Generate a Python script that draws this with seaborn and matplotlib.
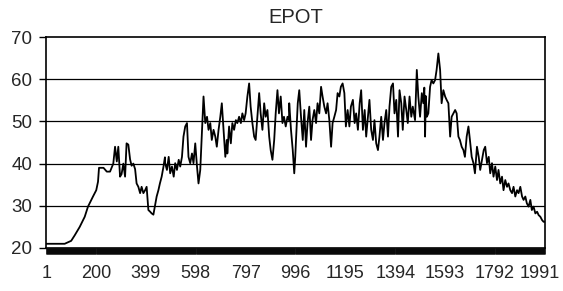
import numpy as np
import pandas as pd
import seaborn as sns
import matplotlib
matplotlib.use("Agg")
import matplotlib.pyplot as plt
import matplotlib.transforms as mtransforms

# step index (category) and EPOT value
step = [1, 75, 101, 115, 135, 155, 168, 188, 201, 208, 212, 230,
        243, 256, 269, 276, 283, 289, 296, 302, 309, 316, 322, 329, 336, 342, 349, 356,
        362, 369, 376, 382, 389, 396, 402, 409, 416, 422, 429, 435, 442, 449, 455, 462, 469, 475,
        476, 483, 490, 496, 503, 510, 516, 523, 530, 536, 543, 549, 556, 563, 569, 576, 583, 589,
        596, 603, 609, 616, 623, 629, 636, 643, 649, 656, 662, 669, 676, 682, 689, 696, 702, 709,
        716, 722,
        724, 731, 738, 744, 751, 758, 764, 771, 778, 784, 791, 797, 804, 811, 817, 824, 831, 837,
        844, 851, 857, 864, 871, 877, 884, 891, 897, 904, 911, 917, 924, 930, 937, 944, 950, 957,
        964, 970,
        971, 978, 985, 991, 995, 998, 1005, 1011, 1018, 1025, 1031, 1038, 1044, 1051, 1058, 1064,
        1071, 1078, 1084, 1091, 1098, 1104, 1111, 1118, 1124, 1131, 1138, 1144, 1151, 1158, 1164,
        1171, 1177, 1184, 1191, 1197, 1204, 1211, 1217,
        1225, 1232, 1238, 1245, 1252, 1258, 1265, 1272, 1278, 1285, 1291, 1298, 1305, 1311, 1318,
        1325, 1331, 1338, 1345, 1351, 1358, 1365, 1371, 1378, 1385, 1391, 1398, 1405, 1411, 1418,
        1424, 1431, 1438, 1444, 1451, 1458, 1464,
        1473, 1480, 1486, 1493, 1500, 1506, 1510, 1513, 1516, 1520, 1526, 1533, 1539, 1546, 1553,
        1559, 1566, 1573, 1579, 1586, 1593, 1599, 1606, 1613, 1619, 1626, 1633, 1639, 1646, 1652,
        1659, 1666, 1672, 1679, 1686, 1692, 1699, 1706, 1712,
        1720, 1727, 1733, 1740, 1747, 1753, 1760, 1767, 1773, 1780, 1786, 1793, 1800, 1806, 1813,
        1820, 1826, 1833, 1840, 1846, 1853, 1860, 1866, 1873, 1880, 1886, 1893, 1900, 1906, 1913,
        1919, 1926, 1933, 1939, 1946, 1953, 1960, 1966, 1973, 1980, 1986, 1991]

epot = [21.0, 21.0, 21.7, 23.0, 25.0, 27.4, 29.8, 32.2, 33.7, 35.7, 39.0, 39.0,
        38.1, 38.1, 40.0, 44.0, 40.5, 44.0, 36.9, 37.5, 40.0, 36.9, 44.8, 44.5, 41.0, 39.5, 40.0, 38.7,
        35.3, 34.5, 33.0, 34.5, 33.0, 33.7, 34.5, 29.0, 28.6, 28.2, 27.9, 29.9, 32.2, 33.7, 35.3, 36.9, 39.2, 41.5,
        40.1, 38.5, 41.6, 37.7, 39.3, 36.9, 40.1, 38.5, 40.9, 39.3, 41.6, 46.4, 48.8, 49.6, 41.6, 40.1, 42.4, 40.1,
        44.8, 39.3, 35.3, 38.5, 48.0, 55.9, 49.6, 51.1, 48.0, 49.6, 45.6, 48.0, 46.4, 44.0, 48.0, 51.1, 54.3, 48.0,
        41.6, 45.6,
        42.4, 48.8, 44.8, 49.6, 48.0, 50.3, 49.6, 51.1, 49.6, 51.9, 50.3, 51.9, 55.9, 59.0, 53.5, 49.6, 46.4, 45.6,
        51.1, 56.7, 51.9, 48.0, 54.3, 51.1, 52.7, 46.4, 43.2, 40.9, 45.6, 51.9, 57.4, 51.9, 55.9, 49.6, 51.1, 48.8,
        51.1, 50.3,
        54.3, 48.0, 43.2, 37.7, 41.6, 45.6, 54.3, 57.4, 51.1, 45.6, 52.7, 44.0, 49.6, 53.5, 45.6, 50.3,
        52.7, 49.6, 54.3, 51.9, 58.2, 55.9, 53.5, 51.9, 54.3, 50.3, 44.0, 49.6, 51.1, 52.7, 56.7,
        55.9, 58.2, 59.0, 56.7, 48.8, 52.7, 48.8, 53.5,
        55.1, 49.6, 51.9, 48.0, 54.3, 57.4, 48.0, 52.7, 46.4, 51.1, 55.1, 48.0, 45.6, 50.3, 44.8,
        43.2, 46.4, 51.1, 45.6, 49.6, 52.7, 46.4, 53.5, 58.2, 59.0, 51.9, 55.1, 46.4, 57.4, 54.3,
        48.0, 55.9, 52.7, 49.6, 55.9, 51.1, 53.5,
        50.3, 62.2, 55.9, 51.1, 56.7, 54.3, 58.0, 46.4, 56.0, 51.1, 51.9, 58.2, 59.8, 59.0, 59.8,
        62.2, 66.1, 62.2, 54.3, 57.4, 55.9, 55.1, 54.3, 46.4, 51.1, 51.9, 52.7, 51.9, 46.4, 45.6,
        44.0, 43.2, 41.6, 46.4, 48.8, 45.6, 41.6, 40.1, 37.7,
        44.0, 41.6, 38.5, 40.9, 43.2, 44.0, 40.1, 41.6, 37.7, 40.1, 36.9, 39.3, 36.1, 38.5, 35.3,
        36.9, 33.7, 36.1, 34.5, 35.3, 33.7, 33.0, 34.5, 32.2, 33.7, 33.0, 34.5, 32.2, 31.4, 32.2,
        30.6, 29.8, 31.4, 29.0, 29.8, 28.2, 28.6, 27.8, 27.4, 26.6, 26.2, 26.2]

x_labels = [1, 200, 399, 598, 797, 996, 1195, 1394, 1593, 1792, 1991]
y_ticks = [20, 30, 40, 50, 60, 70]

df = pd.DataFrame({"step": step, "EPOT": epot})

sns.set_style("white")
plt.rcParams["font.family"] = ["Liberation Sans", "DejaVu Sans"]

fig = plt.figure(figsize=(5.63, 2.91), dpi=100)
ax = fig.add_axes([46 / 563, 1 - 248 / 291, 499 / 563, 211 / 291])

sns.lineplot(data=df, x="step", y="EPOT", color="black", linewidth=1.3, ax=ax)

ax.set_xlim(0.5, 1991.5)
ax.set_ylim(20, 70)
ax.set_yticks(y_ticks)
ax.set_xticks(x_labels)
ax.set_xticklabels([str(v) for v in x_labels])
ax.set_xticks(np.arange(1, 1992), minor=True)
for y in y_ticks[1:-1]:
    ax.axhline(y, color="black", linewidth=0.9, zorder=0)

ax.tick_params(axis="x", which="both", bottom=True, direction="out", length=4.5,
               width=0.4, color="black", pad=8, labelsize=13)
ax.tick_params(axis="y", left=True, direction="out", length=5, width=1,
               color="black", pad=5, labelsize=13.5)
for s in ax.spines.values():
    s.set_color("black")
    s.set_linewidth(1.2)
ax.set_xlabel("")
ax.set_ylabel("")
ax.set_title("EPOT", fontsize=14.5, pad=10)

# keep the last category label inside the figure
last = ax.get_xticklabels()[-1]
last.set_transform(last.get_transform() +
                   mtransforms.ScaledTranslation(-5 / 100, 0, fig.dpi_scale_trans))

fig.savefig("out.png", dpi=100)
